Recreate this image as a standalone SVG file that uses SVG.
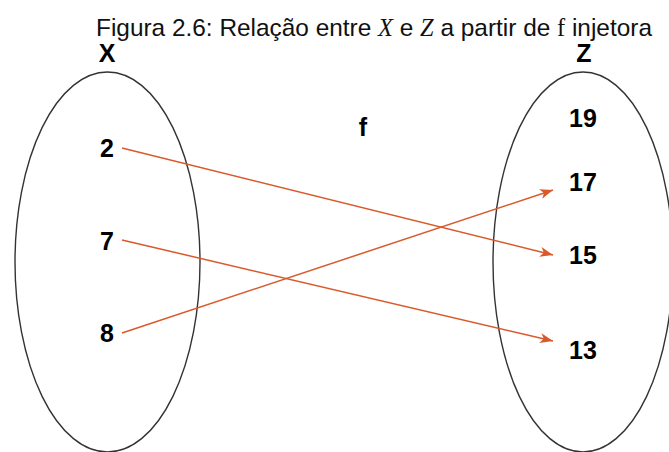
<svg xmlns="http://www.w3.org/2000/svg" width="669" height="452" viewBox="0 0 669 452">
<style>
.title{font-family:"Liberation Sans",Arial,sans-serif;font-size:24.4px;fill:#111}
.math{font-family:"Liberation Serif","DejaVu Serif",serif;font-style:italic}
.mathf{font-family:"Liberation Serif","DejaVu Serif",serif}
.lbl{font-family:"Liberation Sans",Arial,sans-serif;font-size:25px;font-weight:bold;fill:#000;text-anchor:middle}
.set{fill:none;stroke:#333;stroke-width:1.4}
.edge{fill:none;stroke:#d9592b;stroke-width:1.5}
</style>
<defs>
<marker id="arr" markerUnits="userSpaceOnUse" markerWidth="14" markerHeight="12" refX="13" refY="5" orient="auto" viewBox="0 0 14 10">
<path d="M0,0 L13,5 L0,10 L3.5,5 z" fill="#d9592b"/>
</marker>
</defs>
<rect width="669" height="452" fill="#fff"/>
<text class="title" x="374" y="36" text-anchor="middle">Figura 2.6: Relação entre <tspan class="math">X</tspan> e <tspan class="math">Z</tspan> a partir de <tspan class="mathf">f</tspan> injetora</text>
<g id="setX">
<ellipse class="set" cx="107.5" cy="262" rx="92.5" ry="190"/>
<text class="lbl" x="107" y="62">X</text>
</g>
<g id="setZ">
<ellipse class="set" cx="583" cy="262" rx="90" ry="190"/>
<text class="lbl" x="584" y="62">Z</text>
</g>
<g id="x2"><text class="lbl" x="107" y="157">2</text></g>
<g id="x7"><text class="lbl" x="107" y="250">7</text></g>
<g id="x8"><text class="lbl" x="107" y="342">8</text></g>
<g id="z19"><text class="lbl" x="583" y="127">19</text></g>
<g id="z17"><text class="lbl" x="583" y="191">17</text></g>
<g id="z15"><text class="lbl" x="583" y="264">15</text></g>
<g id="z13"><text class="lbl" x="583" y="359">13</text></g>
<g id="flabel"><text class="lbl" x="363" y="136">f</text></g>
<g id="connectors">
<line class="edge" x1="122" y1="148" x2="553" y2="255" marker-end="url(#arr)"/>
<line class="edge" x1="122" y1="240" x2="553" y2="341" marker-end="url(#arr)"/>
<line class="edge" x1="122" y1="333" x2="553" y2="190" marker-end="url(#arr)"/>
</g>
</svg>
